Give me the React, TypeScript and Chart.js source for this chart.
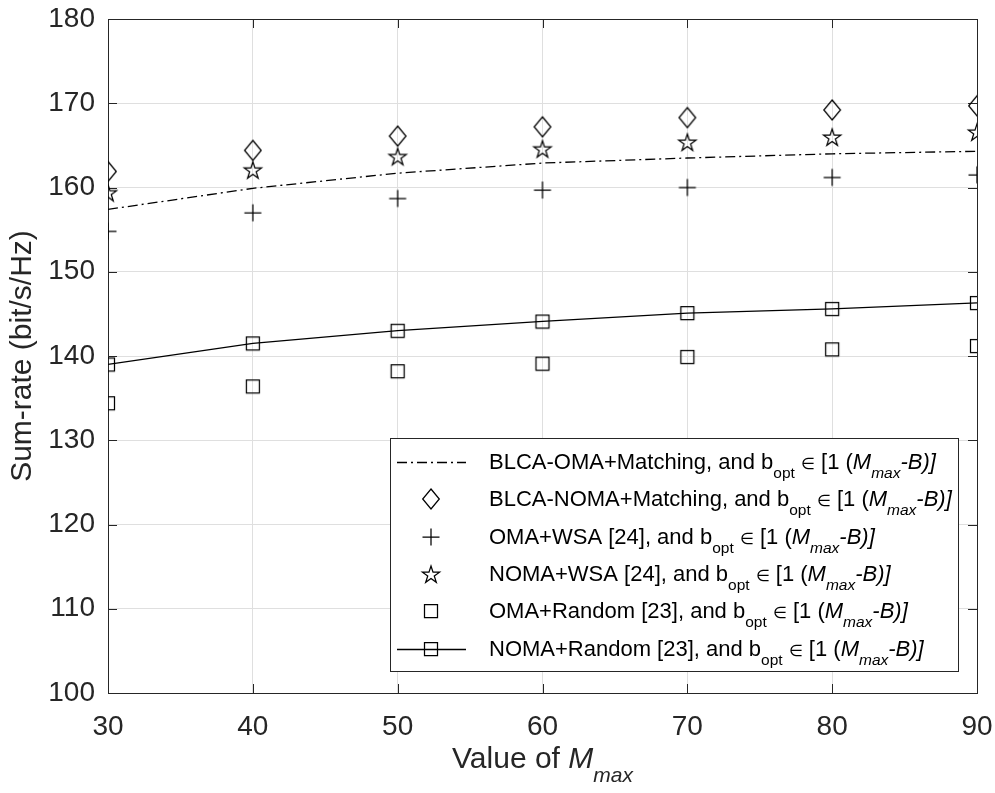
import React, { useEffect, useRef } from 'react';
import { Chart, registerables } from 'chart.js';

Chart.register(...registerables);

// ---------- data ----------
const mValues = [30, 40, 50, 60, 70, 80, 90];
const blcaOmaMatching = [157.4, 159.9, 161.7, 162.9, 163.5, 164.0, 164.3];
const blcaNomaMatching = [161.9, 164.4, 166.1, 167.2, 168.3, 169.2, 169.7];
const omaWsa = [154.8, 157.0, 158.7, 159.7, 160.0, 161.2, 161.5];
const nomaWsa = [159.4, 162.1, 163.7, 164.6, 165.4, 166.0, 166.6];
const omaRandom = [134.4, 136.4, 138.2, 139.1, 139.9, 140.8, 141.2];
const nomaRandom = [139.0, 141.5, 143.0, 144.1, 145.1, 145.6, 146.3];

const xTickValues = [30, 40, 50, 60, 70, 80, 90];
const yTickValues = [100, 110, 120, 130, 140, 150, 160, 170, 180];

const seriesNames = [
  'BLCA-OMA+Matching, and b',
  'BLCA-NOMA+Matching, and b',
  'OMA+WSA [24], and b',
  'NOMA+WSA [24], and b',
  'OMA+Random [23], and b',
  'NOMA+Random [23], and b',
];
const yTitle = 'Sum-rate (bit/s/Hz)';
const xTitleText = 'Value of ';

const FONT = '"Liberation Sans", Arial, Helvetica, sans-serif';
const TXT = '#262626';

type Part = { t: string; it?: boolean; sub?: boolean; size?: number };

function drawRich(
  ctx: CanvasRenderingContext2D,
  parts: Part[],
  x: number,
  y: number,
  size: number,
  subSize: number,
  subDy: number,
  align: 'left' | 'center'
) {
  const fontFor = (p: Part) =>
    `${p.it ? 'italic ' : ''}${p.size ? p.size : p.sub ? subSize : size}px ${FONT}`;
  let total = 0;
  for (const p of parts) {
    ctx.font = fontFor(p);
    total += ctx.measureText(p.t).width;
  }
  let cx = align === 'center' ? x - total / 2 : x;
  ctx.textBaseline = 'alphabetic';
  ctx.textAlign = 'left';
  for (const p of parts) {
    ctx.font = fontFor(p);
    ctx.fillText(p.t, cx, p.sub ? y + subDy : y);
    cx += ctx.measureText(p.t).width;
  }
}

function markerCanvas(kind: string): HTMLCanvasElement {
  const c = document.createElement('canvas');
  const S = 26;
  c.width = S;
  c.height = S;
  const g = c.getContext('2d')!;
  g.strokeStyle = '#000';
  g.lineWidth = 1.25;
  const m = S / 2;
  g.beginPath();
  if (kind === 'diamond') {
    g.moveTo(m, m - 10);
    g.lineTo(m + 8.3, m);
    g.lineTo(m, m + 10);
    g.lineTo(m - 8.3, m);
    g.closePath();
  } else if (kind === 'plus') {
    g.moveTo(m - 8.5, m);
    g.lineTo(m + 8.5, m);
    g.moveTo(m, m - 8.5);
    g.lineTo(m, m + 8.5);
  } else if (kind === 'square') {
    g.rect(m - 6.5, m - 6.5, 13, 13);
  } else if (kind === 'star') {
    const R = 9;
    const r = R * 0.382;
    for (let i = 0; i < 10; i++) {
      const a = (-90 + i * 36) * Math.PI / 180;
      const rr = i % 2 === 0 ? R : r;
      const px = m + rr * Math.cos(a);
      const py = m + 1 + rr * Math.sin(a);
      if (i === 0) g.moveTo(px, py);
      else g.lineTo(px, py);
    }
    g.closePath();
  }
  g.stroke();
  return c;
}

export default function App() {
  const ref = useRef<HTMLCanvasElement | null>(null);

  useEffect(() => {
    if (!ref.current) return;
    const diamond = markerCanvas('diamond');
    const plus = markerCanvas('plus');
    const square = markerCanvas('square');
    const star = markerCanvas('star');

    const toPts = (arr: number[]) => mValues.map((x, i) => ({ x, y: arr[i] }));

    const legendInfo = [
      { line: true, dash: [10, 4, 2, 4], marker: null as HTMLCanvasElement | null },
      { line: false, dash: [], marker: diamond },
      { line: false, dash: [], marker: plus },
      { line: false, dash: [], marker: star },
      { line: false, dash: [], marker: square },
      { line: true, dash: [], marker: square },
    ];

    const framePlugin = {
      id: 'frame',
      beforeDatasetsDraw(chart: any) {
        const { ctx, chartArea } = chart;
        const { left, right, top, bottom } = chartArea;
        const xs = chart.scales.x;
        const ys = chart.scales.y;
        ctx.save();
        ctx.strokeStyle = TXT;
        ctx.lineWidth = 1;
        ctx.beginPath();
        const L = 9;
        for (const v of xTickValues) {
          const px = Math.round(xs.getPixelForValue(v)) + 0.5;
          ctx.moveTo(px, bottom);
          ctx.lineTo(px, bottom - L);
          ctx.moveTo(px, top);
          ctx.lineTo(px, top + L);
        }
        for (const v of yTickValues) {
          const py = Math.round(ys.getPixelForValue(v)) + 0.5;
          ctx.moveTo(left, py);
          ctx.lineTo(left + L, py);
          ctx.moveTo(right, py);
          ctx.lineTo(right - L, py);
        }
        ctx.stroke();
        ctx.strokeRect(Math.round(left) + 0.5, Math.round(top) + 0.5, Math.round(right - left), Math.round(bottom - top));
        ctx.restore();
      },
      afterDraw(chart: any) {
        const { ctx, chartArea } = chart;
        ctx.save();
        ctx.fillStyle = TXT;
        // x title
        const cx = (chartArea.left + chartArea.right) / 2;
        drawRich(
          ctx,
          [{ t: xTitleText }, { t: 'M', it: true }, { t: 'max', it: true, sub: true }],
          cx,
          768,
          30,
          21,
          14,
          'center'
        );
        // legend
        const bx = 390, by = 438, bw = 568, bh = 233;
        ctx.fillStyle = '#fff';
        ctx.fillRect(bx, by, bw, bh);
        ctx.strokeStyle = TXT;
        ctx.lineWidth = 1;
        ctx.strokeRect(bx + 0.5, by + 0.5, bw, bh);
        const rowStart = 462;
        const rowGap = 37.3;
        for (let i = 0; i < seriesNames.length; i++) {
          const cy = rowStart + i * rowGap;
          const info = legendInfo[i];
          if (info.line) {
            ctx.save();
            ctx.strokeStyle = '#000';
            ctx.lineWidth = 1.3;
            ctx.setLineDash(info.dash);
            ctx.beginPath();
            ctx.moveTo(397, Math.round(cy) + 0.5);
            ctx.lineTo(466, Math.round(cy) + 0.5);
            ctx.stroke();
            ctx.restore();
          }
          if (info.marker) {
            ctx.drawImage(info.marker, 431 - info.marker.width / 2, Math.round(cy) - info.marker.height / 2);
          }
          ctx.fillStyle = '#000';
          drawRich(
            ctx,
            [
              { t: seriesNames[i] },
              { t: 'opt', sub: true },
              { t: ' ' },
              { t: '\u2208', size: 16 },
              { t: ' [1 (' },
              { t: 'M', it: true },
              { t: 'max', it: true, sub: true },
              { t: '-B)]', it: true },
            ],
            489,
            cy + 7,
            22,
            15.5,
            9,
            'left'
          );
        }
        ctx.restore();
      },
    };

    const chart = new Chart(ref.current, {
      type: 'line',
      data: {
        datasets: [
          {
            label: seriesNames[0],
            data: toPts(blcaOmaMatching),
            borderColor: '#000',
            borderWidth: 1.3,
            borderDash: [10, 4, 2, 4],
            pointRadius: 0,
            fill: false,
          },
          {
            label: seriesNames[1],
            data: toPts(blcaNomaMatching),
            showLine: false,
            pointStyle: diamond as any,
            pointRadius: 8,
          },
          {
            label: seriesNames[2],
            data: toPts(omaWsa),
            showLine: false,
            pointStyle: plus as any,
            pointRadius: 8,
          },
          {
            label: seriesNames[3],
            data: toPts(nomaWsa),
            showLine: false,
            pointStyle: star as any,
            pointRadius: 8,
          },
          {
            label: seriesNames[4],
            data: toPts(omaRandom),
            showLine: false,
            pointStyle: square as any,
            pointRadius: 8,
          },
          {
            label: seriesNames[5],
            data: toPts(nomaRandom),
            borderColor: '#000',
            borderWidth: 1.3,
            pointStyle: square as any,
            pointRadius: 8,
            fill: false,
          },
        ],
      },
      options: {
        animation: false,
        responsive: false,
        devicePixelRatio: 1,
        layout: { padding: { left: 0, right: 18, top: 19, bottom: 0 } },
        plugins: { legend: { display: false }, tooltip: { enabled: false } },
        elements: { line: { tension: 0 } },
        scales: {
          x: {
            type: 'linear',
            min: 30,
            max: 90,
            afterFit: (s: any) => {
              s.height = 100;
              s.paddingLeft = 0;
              s.paddingRight = 0;
            },
            afterBuildTicks: (s: any) => { s.ticks = xTickValues.map((v) => ({ value: v })); },
            ticks: { color: TXT, font: { family: FONT, size: 28 }, padding: 17 },
            grid: { color: '#dfdfdf', lineWidth: 1, drawTicks: false },
            border: { display: false },
          },
          y: {
            type: 'linear',
            min: 100,
            max: 180,
            afterFit: (s: any) => {
              s.width = 108;
              s.paddingTop = 0;
              s.paddingBottom = 0;
            },
            afterBuildTicks: (s: any) => { s.ticks = yTickValues.map((v) => ({ value: v })); },
            ticks: { color: TXT, font: { family: FONT, size: 28 }, padding: 13 },
            grid: { color: '#dfdfdf', lineWidth: 1, drawTicks: false },
            border: { display: false },
            title: {
              display: true,
              text: yTitle,
              color: TXT,
              font: { family: FONT, size: 30 },
              padding: { top: 5, bottom: 0 },
            },
          },
        },
      },
      plugins: [framePlugin],
    } as any);

    return () => chart.destroy();
  }, []);

  return (
    <div style={{ position: 'absolute', left: 0, top: 0, width: 995, height: 793, background: '#fff' }}>
      <canvas ref={ref} width={995} height={793} />
    </div>
  );
}
